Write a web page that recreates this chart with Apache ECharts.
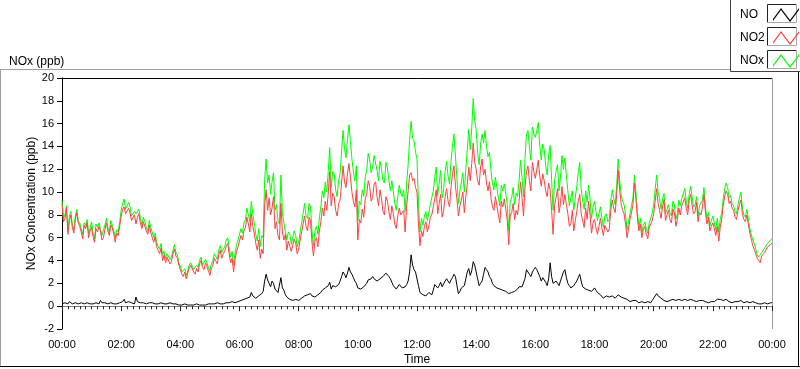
<!DOCTYPE html>
<html>
<head>
<meta charset="utf-8">
<script src="https://cdn.jsdelivr.net/npm/echarts@6/dist/echarts.min.js"></script>
<style>
html,body{margin:0;padding:0;background:#fff;}
#chart{width:800px;height:369px;}
</style>
</head>
<body>
<div id="chart"></div>
<script>
// Sample times in hours (one reading every 3 minutes, 00:00 to 24:00)
const sampleTimes = [];
for (let i = 0; i <= 480; i++) sampleTimes.push(i / 20);

const xTickLabels = ['00:00','02:00','04:00','06:00','08:00','10:00','12:00','14:00','16:00','18:00','20:00','22:00','00:00'];
const seriesNames = ['NO', 'NO2', 'NOx'];

// one row per hour (20 readings)
const no2Values = [
  9.0, 7.4, 7.7, 8.6, 6.3, 7.5, 8.0, 6.9, 6.4, 7.6, 8.2, 7.3, 7.0, 6.5, 5.9, 7.1, 6.8, 7.3, 6.0, 6.6,
  6.9, 6.1, 5.6, 6.8, 6.5, 7.0, 6.6, 5.8, 6.0, 6.7, 7.3, 6.6, 6.2, 7.1, 6.9, 6.3, 5.6, 6.4, 6.2, 7.0,
  7.9, 8.5, 8.7, 8.1, 8.0, 8.6, 8.2, 7.5, 7.6, 8.0, 7.2, 7.8, 8.1, 7.3, 6.8, 7.4, 7.0, 6.6, 6.3, 7.1,
  6.5, 6.0, 5.6, 6.1, 5.2, 4.9, 4.6, 5.1, 4.0, 4.5, 3.8, 4.3, 4.2, 3.7, 3.9, 4.6, 5.0, 4.4, 4.2, 3.6,
  3.2, 2.8, 2.6, 3.0, 2.4, 2.9, 3.3, 3.6, 3.5, 3.0, 2.8, 3.3, 3.0, 3.7, 4.0, 3.4, 3.2, 3.8, 3.5, 3.1,
  2.7, 3.3, 3.6, 4.2, 4.1, 3.7, 4.5, 4.9, 4.2, 4.6, 4.8, 5.3, 5.5, 4.6, 3.8, 4.2, 3.0, 4.1, 4.8, 5.2,
  5.3, 6.2, 5.8, 6.6, 6.9, 7.8, 7.2, 6.5, 8.1, 7.0, 6.4, 5.5, 4.9, 5.8, 4.2, 5.0, 4.6, 8.8, 10.2, 8.4,
  9.5, 8.0, 8.6, 9.6, 6.8, 7.4, 6.2, 5.8, 9.0, 6.5, 5.8, 6.3, 4.9, 5.7, 5.6, 4.8, 4.7, 5.9, 5.5, 4.6,
  5.0, 5.8, 6.5, 7.2, 7.9, 7.0, 6.6, 7.8, 7.5, 5.6, 4.4, 5.7, 6.0, 5.2, 6.6, 7.4, 8.6, 7.9, 9.2, 8.4,
  9.9, 11.8, 8.8, 9.9, 9.6, 8.4, 7.9, 9.0, 9.3, 10.8, 12.3, 10.9, 10.4, 11.6, 12.5, 11.3, 10.0, 9.2, 8.7, 10.2,
  5.8, 7.6, 7.3, 8.5, 7.8, 9.4, 9.8, 11.0, 10.5, 9.2, 9.5, 10.7, 10.9, 9.6, 8.8, 10.2, 9.4, 8.3, 8.0, 9.6,
  9.2, 8.3, 7.6, 8.8, 8.1, 7.2, 6.8, 7.9, 8.6, 8.0, 7.9, 8.4, 6.5, 8.8, 10.1, 11.5, 11.7, 11.0, 11.2, 10.4,
  10.0, 7.2, 5.3, 6.6, 6.1, 7.0, 7.4, 6.5, 7.0, 7.8, 8.0, 8.7, 9.4, 10.2, 8.1, 9.0, 9.8, 7.8, 8.4, 9.6,
  10.3, 9.2, 8.7, 10.4, 11.6, 12.3, 10.5, 9.4, 7.9, 8.8, 9.3, 10.0, 8.2, 9.6, 10.7, 12.2, 11.0, 12.5, 14.3, 12.6,
  12.0, 11.0, 10.6, 12.2, 12.9, 11.5, 12.0, 10.8, 10.1, 10.9, 9.5, 8.7, 8.4, 9.6, 8.8, 8.0, 7.3, 9.2, 8.7, 9.4,
  8.5, 7.6, 5.4, 7.9, 8.2, 9.0, 7.6, 8.4, 8.0, 9.2, 10.9, 9.5, 7.9, 10.4, 11.8, 12.3, 11.0, 10.1, 12.6, 11.8,
  11.2, 12.0, 12.8, 11.4, 10.5, 11.6, 11.0, 10.1, 9.6, 10.8, 10.2, 8.4, 6.3, 8.8, 9.5, 10.3, 8.2, 9.0, 10.5, 8.9,
  9.8, 8.9, 8.1, 7.0, 7.2, 8.4, 6.6, 7.5, 8.3, 9.2, 9.8, 8.1, 7.5, 6.9, 8.6, 7.6, 9.2, 8.0, 6.4, 7.3,
  7.6, 6.9, 6.3, 7.0, 7.7, 6.8, 6.2, 7.1, 7.2, 6.5, 6.8, 8.4, 9.3, 8.6, 8.2, 9.8, 11.9, 10.2, 9.0, 8.4,
  8.1, 7.2, 6.0, 6.8, 7.6, 8.2, 8.9, 10.8, 9.4, 7.8, 6.6, 7.2, 6.0, 6.7, 7.0, 6.3, 5.9, 6.9, 6.8, 7.5,
  8.1, 9.2, 10.3, 9.0, 8.4, 7.7, 8.7, 9.3, 7.5, 8.0, 8.4, 7.6, 7.3, 8.5, 8.2, 7.0, 7.6, 8.6, 8.0, 8.8,
  8.9, 9.5, 8.6, 8.0, 9.3, 9.8, 8.8, 8.1, 8.3, 9.1, 7.4, 8.2, 8.0, 8.7, 9.8, 8.2, 7.2, 7.8, 6.6, 7.0,
  7.3, 6.8, 6.2, 7.0, 5.7, 6.9, 7.6, 8.8, 9.6, 10.1, 9.8, 9.0, 9.2, 8.6, 8.4, 7.8, 7.6, 8.4, 8.9, 9.3,
  8.1, 7.6, 7.4, 8.0, 7.2, 6.4, 5.9, 5.3, 5.0, 4.6, 4.2, 4.0, 3.8, 4.4, 4.3, 4.7, 4.8, 5.2, 5.1, 5.4,
  5.5
];

const noValues = [
  0.2, 0.3, 0.3, 0.2, 0.2, 0.4, 0.3, 0.2, 0.2, 0.3, 0.3, 0.2, 0.2, 0.3, 0.3, 0.2, 0.2, 0.3, 0.3, 0.2,
  0.3, 0.2, 0.2, 0.3, 0.3, 0.2, 0.5, 0.3, 0.2, 0.3, 0.3, 0.2, 0.2, 0.3, 0.4, 0.2, 0.3, 0.2, 0.2, 0.3,
  0.3, 0.4, 0.6, 0.3, 0.3, 0.4, 0.4, 0.3, 0.3, 0.2, 0.8, 0.4, 0.3, 0.3, 0.2, 0.3, 0.3, 0.2, 0.2, 0.3,
  0.2, 0.3, 0.3, 0.2, 0.2, 0.2, 0.2, 0.3, 0.3, 0.2, 0.2, 0.2, 0.2, 0.3, 0.3, 0.2, 0.2, 0.2, 0.2, 0.1,
  0.1, 0.1, 0.1, 0.2, 0.1, 0.1, 0.2, 0.1, 0.1, 0.1, 0.1, 0.2, 0.2, 0.1, 0.1, 0.1, 0.2, 0.1, 0.1, 0.2,
  0.2, 0.2, 0.2, 0.2, 0.2, 0.3, 0.2, 0.2, 0.3, 0.2, 0.2, 0.3, 0.3, 0.3, 0.3, 0.4, 0.4, 0.3, 0.4, 0.4,
  0.4, 0.5, 0.5, 0.6, 0.6, 0.7, 0.7, 0.8, 1.2, 0.9, 0.8, 0.7, 0.7, 0.9, 0.9, 1.1, 1.3, 2.2, 2.8, 2.3,
  2.0, 1.7, 2.2, 2.0, 1.5, 1.4, 1.2, 1.3, 2.5, 1.6, 1.4, 1.0, 0.8, 0.7, 0.6, 0.5, 0.5, 0.6, 0.6, 0.5,
  0.5, 0.6, 0.7, 0.8, 0.9, 0.8, 1.0, 1.1, 1.1, 0.9, 0.8, 0.8, 0.9, 1.0, 1.1, 1.2, 1.4, 1.5, 1.6, 1.5,
  1.8, 2.1, 1.5, 1.8, 1.9, 1.7, 1.6, 1.9, 2.2, 2.6, 3.0, 2.8, 2.5, 2.9, 3.4, 3.0, 2.8, 2.5, 2.2, 2.0,
  1.6, 1.5, 1.5, 1.6, 1.7, 1.8, 2.0, 2.3, 2.2, 2.4, 2.6, 2.4, 2.3, 2.2, 2.1, 2.4, 2.5, 2.6, 2.7, 2.9,
  2.8, 2.6, 2.4, 2.1, 1.8, 1.7, 1.5, 1.6, 1.9, 1.8, 1.6, 1.7, 1.7, 1.9, 2.2, 3.0, 4.5, 3.6, 3.2, 3.0,
  2.9, 1.8, 1.2, 1.1, 1.0, 0.9, 0.9, 1.0, 1.2, 1.1, 1.0, 1.4, 1.9, 2.0, 1.6, 1.8, 2.1, 1.7, 1.8, 2.2,
  2.4, 2.2, 2.0, 2.3, 2.5, 2.8, 2.6, 1.8, 1.1, 1.3, 1.6, 1.7, 1.8, 2.4, 3.0, 3.3, 2.7, 3.1, 3.9, 3.6,
  3.5, 2.4, 1.8, 2.0, 2.2, 2.8, 3.4, 3.2, 3.0, 2.6, 2.4, 2.0, 1.8, 1.7, 1.6, 1.5, 1.5, 1.4, 1.4, 1.3,
  1.3, 1.2, 1.1, 1.1, 1.2, 1.3, 1.3, 1.4, 1.5, 1.7, 1.8, 1.7, 1.6, 2.4, 3.2, 3.0, 2.8, 2.6, 3.0, 3.2,
  3.4, 3.2, 3.1, 2.6, 2.2, 2.5, 2.6, 2.1, 1.8, 2.4, 3.8, 2.6, 2.0, 2.1, 2.2, 2.0, 1.8, 2.2, 2.6, 3.0,
  3.2, 2.5, 2.0, 1.8, 1.6, 1.7, 1.8, 2.0, 2.2, 2.5, 2.8, 2.2, 1.7, 1.6, 1.5, 1.5, 1.4, 1.4, 1.3, 1.4,
  1.6, 1.4, 1.2, 1.1, 1.0, 0.9, 0.7, 0.8, 0.9, 0.9, 0.8, 0.9, 0.9, 0.8, 0.7, 0.8, 1.0, 0.9, 0.8, 0.8,
  0.7, 0.7, 0.6, 0.5, 0.4, 0.5, 0.5, 0.6, 0.5, 0.4, 0.3, 0.4, 0.4, 0.3, 0.3, 0.4, 0.4, 0.3, 0.3, 0.5,
  0.7, 0.9, 1.1, 0.9, 0.9, 0.7, 0.6, 0.5, 0.5, 0.4, 0.4, 0.5, 0.5, 0.6, 0.6, 0.5, 0.4, 0.6, 0.7, 0.5,
  0.5, 0.6, 0.6, 0.5, 0.4, 0.6, 0.7, 0.5, 0.5, 0.4, 0.4, 0.5, 0.6, 0.5, 0.5, 0.4, 0.4, 0.3, 0.3, 0.4,
  0.5, 0.4, 0.4, 0.6, 0.7, 0.6, 0.5, 0.5, 0.6, 0.6, 0.5, 0.4, 0.4, 0.3, 0.3, 0.4, 0.4, 0.4, 0.5, 0.5,
  0.4, 0.3, 0.3, 0.4, 0.4, 0.3, 0.3, 0.4, 0.4, 0.3, 0.2, 0.2, 0.3, 0.2, 0.2, 0.3, 0.3, 0.2, 0.2, 0.3,
  0.3
];

const noxValues = [
  9.3, 7.7, 8.0, 8.8, 6.6, 7.9, 8.3, 7.1, 6.7, 7.9, 8.5, 7.5, 7.3, 6.8, 6.3, 7.3, 7.1, 7.6, 6.4, 6.8,
  7.4, 6.4, 5.9, 7.2, 6.9, 7.3, 7.2, 6.2, 6.3, 7.1, 7.7, 6.9, 6.5, 7.5, 7.4, 6.6, 6.0, 6.7, 6.5, 7.4,
  8.4, 9.0, 9.4, 8.5, 8.4, 9.1, 8.7, 7.9, 8.0, 8.3, 8.1, 8.3, 8.5, 7.7, 7.1, 7.8, 7.4, 6.9, 6.6, 7.5,
  6.9, 6.5, 6.0, 6.4, 5.6, 5.2, 5.0, 5.5, 4.5, 4.8, 4.2, 4.6, 4.5, 4.1, 4.3, 4.9, 5.4, 4.7, 4.5, 3.8,
  3.5, 3.0, 2.9, 3.3, 2.7, 3.1, 3.6, 3.8, 3.8, 3.2, 3.1, 3.6, 3.4, 4.0, 4.3, 3.6, 3.6, 4.1, 3.8, 3.4,
  3.1, 3.7, 4.0, 4.6, 4.5, 4.1, 4.9, 5.3, 4.7, 5.0, 5.2, 5.8, 6.0, 5.1, 4.3, 4.8, 3.6, 4.6, 5.4, 5.8,
  5.9, 6.8, 6.4, 7.3, 7.6, 8.6, 8.0, 7.4, 9.2, 8.0, 7.3, 6.3, 5.7, 6.8, 5.2, 6.2, 6.0, 11.1, 12.9, 10.8,
  11.5, 9.8, 10.9, 11.7, 8.4, 8.9, 7.5, 7.2, 11.5, 8.2, 7.3, 7.4, 5.8, 6.5, 6.3, 5.4, 5.3, 6.6, 6.2, 5.2,
  5.6, 6.5, 7.3, 8.1, 9.0, 7.9, 7.7, 9.0, 8.7, 6.6, 5.3, 6.6, 7.0, 6.3, 7.8, 8.7, 10.1, 9.5, 10.9, 10.0,
  11.8, 13.9, 10.4, 11.8, 11.6, 10.2, 9.6, 11.0, 11.6, 13.5, 15.4, 13.8, 13.0, 14.6, 15.9, 14.4, 12.9, 11.8, 11.0, 12.3,
  7.5, 9.2, 8.9, 10.2, 9.6, 11.3, 11.9, 13.4, 12.8, 11.7, 12.2, 13.2, 13.3, 11.9, 11.0, 12.7, 12.0, 11.0, 10.8, 12.6,
  12.1, 11.0, 10.1, 11.0, 10.0, 9.0, 8.4, 9.6, 10.6, 9.9, 9.6, 10.2, 8.3, 10.8, 12.4, 14.6, 16.2, 14.7, 14.5, 13.5,
  12.9, 9.0, 6.5, 7.7, 7.1, 7.9, 8.3, 7.5, 8.2, 8.9, 9.0, 10.1, 11.3, 12.2, 9.7, 10.8, 11.9, 9.5, 10.2, 11.8,
  12.7, 11.4, 10.7, 12.7, 14.1, 15.1, 13.1, 11.2, 9.0, 10.1, 10.9, 11.7, 10.0, 12.0, 13.7, 15.5, 13.7, 15.6, 18.2, 16.2,
  15.5, 13.4, 12.4, 14.2, 15.1, 14.3, 15.4, 14.0, 13.1, 13.5, 11.9, 10.7, 10.2, 11.3, 10.4, 9.5, 8.8, 10.6, 10.1, 10.7,
  9.9, 8.9, 6.6, 9.1, 9.5, 10.4, 8.9, 9.9, 9.6, 11.0, 12.8, 11.3, 9.6, 12.9, 15.1, 15.4, 13.9, 12.8, 15.7, 15.1,
  14.8, 15.4, 16.1, 14.1, 12.8, 14.2, 13.7, 12.3, 11.5, 13.3, 14.1, 11.1, 8.4, 11.0, 11.8, 12.4, 10.1, 11.3, 13.2, 12.0,
  13.0, 11.4, 10.1, 8.8, 8.8, 10.1, 8.4, 9.5, 10.5, 11.7, 12.6, 10.3, 9.2, 8.5, 10.1, 9.1, 10.6, 9.4, 7.7, 8.7,
  9.2, 8.3, 7.5, 8.1, 8.7, 7.7, 6.9, 7.9, 8.1, 7.4, 7.6, 9.3, 10.2, 9.4, 8.9, 10.6, 12.9, 11.1, 9.8, 9.2,
  8.9, 8.0, 6.7, 7.4, 8.1, 8.8, 9.5, 11.5, 10.0, 8.3, 7.0, 7.7, 6.5, 7.1, 7.4, 6.8, 6.4, 7.3, 7.2, 8.1,
  8.9, 10.2, 11.5, 10.0, 9.4, 8.5, 9.4, 9.9, 8.1, 8.5, 8.9, 8.2, 7.9, 9.2, 8.9, 7.6, 8.1, 9.3, 8.8, 9.4,
  9.5, 10.3, 9.3, 8.6, 9.8, 10.5, 9.6, 8.7, 8.9, 9.6, 7.9, 8.8, 8.7, 9.3, 10.4, 8.7, 7.7, 8.2, 7.0, 7.5,
  7.9, 7.3, 6.7, 7.7, 6.5, 7.6, 8.2, 9.4, 10.3, 10.8, 10.4, 9.5, 9.7, 9.0, 8.8, 8.3, 8.1, 8.9, 9.5, 10.0,
  8.6, 8.0, 7.8, 8.5, 7.7, 6.8, 6.3, 5.8, 5.5, 5.0, 4.5, 4.3, 4.2, 4.7, 4.6, 5.1, 5.2, 5.5, 5.4, 5.8,
  5.9
];

function pairs(vals) { return sampleTimes.map((t, i) => [t, vals[i]]); }

const FONT = 'Liberation Sans';
const chart = echarts.init(document.getElementById('chart'));

const zig = 'path://M0,12 L8,1 L17,13 L26,1 L26,3 L17,15 L8,3 L0,14 Z';

function sunkenBox(y) {
  return [
    { type: 'polyline', shape: { points: [[767.5, y + 18.5], [767.5, y + 0.5], [796.5, y + 0.5]] }, style: { stroke: '#202020', lineWidth: 1, fill: null } },
    { type: 'polyline', shape: { points: [[767.5, y + 18.5], [796.5, y + 18.5], [796.5, y + 0.5]] }, style: { stroke: '#a8a8a8', lineWidth: 1, fill: null } }
  ];
}

chart.setOption({
  animation: false,
  backgroundColor: '#ffffff',
  title: {
    text: 'NOx (ppb)', left: 4, top: 51,
    textStyle: { fontFamily: FONT, fontSize: 12, fontWeight: 'normal', color: '#000' }
  },
  legend: {
    orient: 'vertical', left: 735, top: 3, align: 'right',
    itemWidth: 26, itemHeight: 14, itemGap: 9,
    icon: zig,
    data: seriesNames,
    formatter: name => '{a|' + name + '}',
    textStyle: {
      fontFamily: FONT, fontSize: 12, color: '#000',
      rich: { a: { width: 28, align: 'left', fontFamily: FONT, fontSize: 12, color: '#000' } }
    }
  },
  grid: { left: 62, right: 28, top: 78, bottom: 40, outerBoundsMode: 'none', containLabel: false },
  xAxis: {
    type: 'value', min: 0, max: 24, interval: 2,
    name: 'Time', nameLocation: 'middle', nameGap: 25, nameMoveOverlap: false,
    nameTextStyle: { fontFamily: FONT, fontSize: 12, color: '#000' },
    axisLine: { lineStyle: { color: '#808080', width: 1 } },
    axisTick: { show: true, length: 5, lineStyle: { color: '#202020' } },
    minorTick: { show: true, splitNumber: 10, length: 3, lineStyle: { color: '#202020' } },
    splitLine: { show: false },
    axisLabel: {
      fontFamily: FONT, fontSize: 11, color: '#000', margin: 10,
      formatter: v => xTickLabels[Math.round(v / 2)]
    }
  },
  yAxis: {
    type: 'value', min: -2, max: 20, interval: 2,
    name: 'NOx Concentration (ppb)', nameLocation: 'middle', nameGap: 24, nameMoveOverlap: false,
    nameTextStyle: { fontFamily: FONT, fontSize: 12, color: '#000' },
    axisLine: { show: true, lineStyle: { color: '#000', width: 1 } },
    axisTick: { show: true, length: 5, lineStyle: { color: '#000' } },
    splitLine: { show: false },
    axisLabel: { fontFamily: FONT, fontSize: 11, color: '#000', margin: 8 }
  },
  series: [
    { name: 'NO', type: 'line', data: pairs(noValues), showSymbol: false, z: 4,
      color: '#000000', lineStyle: { width: 1, color: '#000000' } },
    { name: 'NO2', type: 'line', data: pairs(no2Values), showSymbol: false, z: 3,
      color: '#ff4040', lineStyle: { width: 1, color: '#ff4040' } },
    { name: 'NOx', type: 'line', data: pairs(noxValues), showSymbol: false, z: 2,
      color: '#00ff00', lineStyle: { width: 1, color: '#00ff00' } }
  ],
  graphic: [
    { type: 'line', shape: { x1: 0, y1: 69.5, x2: 730, y2: 69.5 }, style: { stroke: '#a0a0a0', lineWidth: 1 } },
    { type: 'line', shape: { x1: 0.5, y1: 69.5, x2: 0.5, y2: 367 }, style: { stroke: '#a0a0a0', lineWidth: 1 } },
    { type: 'line', shape: { x1: 0, y1: 366.5, x2: 800, y2: 366.5 }, style: { stroke: '#000', lineWidth: 1 } },
    { type: 'line', shape: { x1: 798.5, y1: 72, x2: 798.5, y2: 367 }, style: { stroke: '#000', lineWidth: 1 } },
    { type: 'line', shape: { x1: 730.5, y1: 0, x2: 730.5, y2: 71.5 }, style: { stroke: '#404040', lineWidth: 1 } },
    { type: 'line', shape: { x1: 730.5, y1: 71.5, x2: 800, y2: 71.5 }, style: { stroke: '#404040', lineWidth: 1 } },
    { type: 'line', shape: { x1: 62, y1: 78.5, x2: 772.5, y2: 78.5 }, style: { stroke: '#000', lineWidth: 1 } },
    { type: 'line', shape: { x1: 772.5, y1: 78.5, x2: 772.5, y2: 329 }, style: { stroke: '#a0a0a0', lineWidth: 1 } },
    ...sunkenBox(4), ...sunkenBox(27), ...sunkenBox(50)
  ]
});
</script>
</body>
</html>
